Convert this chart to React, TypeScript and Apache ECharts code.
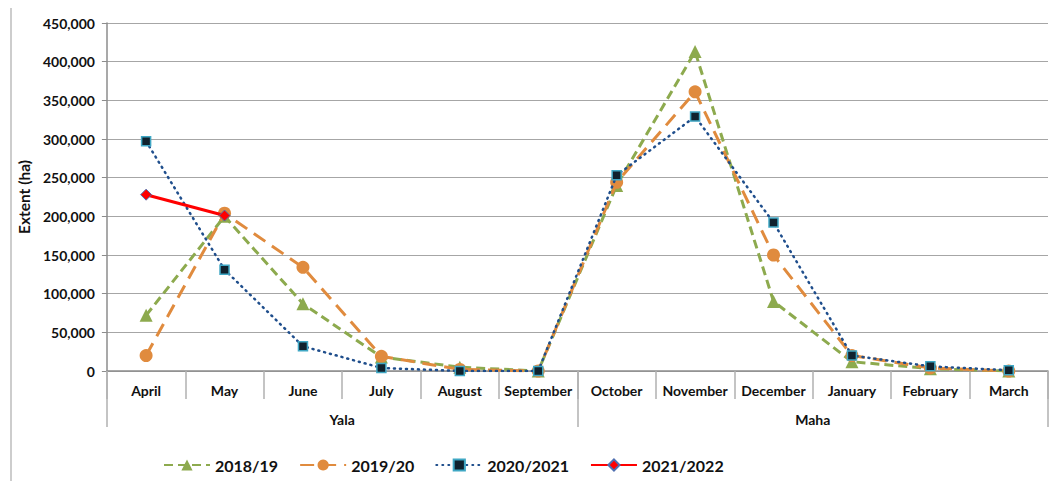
import React, { useEffect, useRef } from "react";
import * as echarts from "echarts";

const months = ["April", "May", "June", "July", "August", "September", "October", "November", "December", "January", "February", "March"];
const seasons = ["Yala", "Maha"];
const s2018 = [72000, 200000, 87000, 18000, 5000, 0, 240000, 413000, 90000, 12000, 3000, 0];
const s2019 = [20000, 204000, 134000, 19000, 2000, 0, 244000, 361000, 150000, 20000, 4000, 0];
const s2020 = [297000, 131000, 32000, 4000, 0, 0, 253000, 329000, 192000, 20000, 6000, 1000];
const s2021 = [228000, 201000, null, null, null, null, null, null, null, null, null, null];

const FONT = "Lato, 'Open Sans', sans-serif";

export default function App() {
  const ref = useRef<HTMLDivElement>(null);
  useEffect(() => {
    if (!ref.current) return;
    const chart = echarts.init(ref.current, null, { renderer: "svg" });
    chart.setOption({
      animation: false,
      textStyle: { fontFamily: FONT },
      grid: { left: 95, right: 13, top: 15, bottom: 110 },
      graphic: [
        { type: "rect", shape: { x: 3, y: -1, width: 1046, height: 480 }, style: { fill: "none", stroke: "#bdbdbd", lineWidth: 1.5 } },
      ],
      legend: {
        bottom: 3,
        left: 150,
        itemWidth: 46,
        itemHeight: 14,
        itemGap: 21,
        textStyle: { fontFamily: FONT, fontWeight: "bold", fontSize: 16, color: "#111" },
        data: ["2018/19", "2019/20", "2020/2021", "2021/2022"],
      },
      xAxis: [
        {
          type: "category",
          data: months,
          boundaryGap: true,
          axisLine: { lineStyle: { color: "#8c8c8c", width: 1.5 } },
          axisTick: { show: true, length: 28, lineStyle: { color: "#b0b0b0", width: 1.5 }, alignWithLabel: false, interval: 0 },
          axisLabel: { margin: 12, fontFamily: FONT, fontWeight: "bold", fontSize: 14, color: "#111", interval: 0 },
          splitLine: { show: false },
        },
        {
          type: "category",
          data: seasons,
          position: "bottom",
          boundaryGap: true,
          axisLine: { show: false },
          axisTick: { show: true, length: 56, lineStyle: { color: "#b0b0b0", width: 1.5 }, interval: 0 },
          axisLabel: { margin: 41, fontFamily: FONT, fontWeight: "bold", fontSize: 14, color: "#111" },
        },
      ],
      yAxis: {
        type: "value",
        min: 0,
        max: 450000,
        interval: 50000,
        name: "Extent (ha)",
        nameLocation: "middle",
        nameGap: 69,
        nameTextStyle: { fontFamily: FONT, fontWeight: "bold", fontSize: 15.5, color: "#111" },
        axisLine: { show: true, lineStyle: { color: "#8c8c8c", width: 1.5 } },
        axisTick: { show: true, length: 5, inside: false, lineStyle: { color: "#8c8c8c" } },
        axisLabel: {
          margin: 12,
          fontFamily: FONT,
          fontWeight: "bold",
          fontSize: 14,
          color: "#111",
          formatter: (v: number) => v.toLocaleString("en-US"),
        },
        splitLine: { lineStyle: { color: "#a6a6a6", width: 1.2 } },
      },
      series: [
        {
          name: "2018/19",
          type: "line",
          data: s2018,
          symbol: "triangle",
          symbolSize: 13,
          itemStyle: { color: "#8DAA4E" },
          lineStyle: { color: "#8DAA4E", width: 3, type: [9, 5] },
          z: 2,
        },
        {
          name: "2019/20",
          type: "line",
          data: s2019,
          symbol: "circle",
          symbolSize: 13,
          itemStyle: { color: "#E08B3E" },
          lineStyle: { color: "#E08B3E", width: 3, type: [14, 8] },
          z: 3,
        },
        {
          name: "2020/2021",
          type: "line",
          data: s2020,
          symbol: "rect",
          symbolSize: 9,
          itemStyle: { color: "#10222e", borderColor: "#3fa7c4", borderWidth: 1.5 },
          lineStyle: { color: "#1F4E8C", width: 2.5, type: [1, 5], cap: "round" },
          z: 4,
        },
        {
          name: "2021/2022",
          type: "line",
          data: s2021,
          symbol: "diamond",
          symbolSize: 11,
          connectNulls: false,
          itemStyle: { color: "#FF0000", borderColor: "#4F6FB0", borderWidth: 1 },
          lineStyle: { color: "#FF0000", width: 3 },
          z: 5,
        },
      ],
    });
    return () => chart.dispose();
  }, []);
  return <div ref={ref} style={{ width: 1053, height: 473 }} />;
}
